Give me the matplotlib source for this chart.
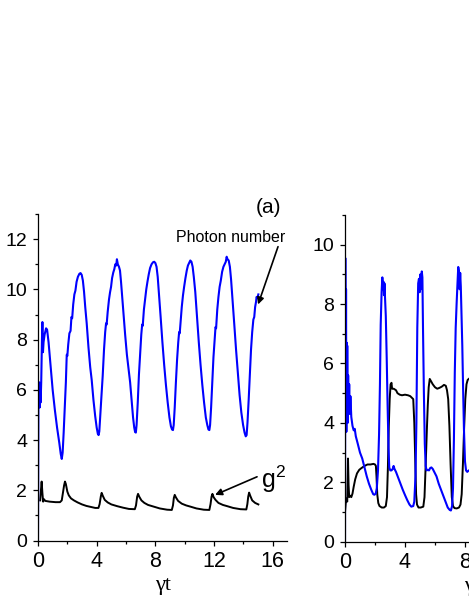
import numpy as np
import matplotlib.pyplot as plt
from matplotlib.ticker import MultipleLocator

plt.rcParams['font.family'] = ['Liberation Sans', 'DejaVu Sans']
plt.rcParams['mathtext.fontset'] = 'custom'
plt.rcParams['mathtext.rm'] = 'Liberation Sans'

# panel (a): photon number (blue) and g2 (black)
t_na = [0.00, 0.03, 0.05, 0.07, 0.09, 0.12, 0.15, 0.18, 0.22, 0.27, 0.30, 0.34, 0.38, 0.45, 0.55,
        0.62, 0.72, 0.85, 1.00, 1.15, 1.30, 1.45, 1.55, 1.62, 1.68, 1.75, 1.82, 1.90, 1.96, 2.00,
        2.06, 2.14, 2.22, 2.28, 2.33, 2.40, 2.48, 2.55, 2.63, 2.72, 2.82, 2.90, 2.98, 3.06, 3.14,
        3.22, 3.32, 3.44, 3.56, 3.66, 3.78, 3.90, 4.00, 4.08, 4.13, 4.18, 4.24, 4.32, 4.41, 4.50,
        4.58, 4.64, 4.68, 4.75, 4.84, 4.91, 4.98, 5.05, 5.13, 5.20, 5.27, 5.33, 5.38, 5.44, 5.52,
        5.59, 5.66, 5.74, 5.82, 5.94, 6.06, 6.18, 6.28, 6.38, 6.48, 6.56, 6.62, 6.67, 6.72, 6.80,
        6.88, 6.96, 7.04, 7.10, 7.14, 7.22, 7.30, 7.38, 7.46, 7.55, 7.64, 7.74, 7.84, 7.92, 8.00,
        8.08, 8.16, 8.25, 8.36, 8.48, 8.60, 8.72, 8.84, 8.96, 9.06, 9.14, 9.20, 9.25, 9.32, 9.40,
        9.48, 9.56, 9.62, 9.66, 9.72, 9.80, 9.88, 9.96, 10.05, 10.14, 10.22, 10.30, 10.38, 10.46,
        10.54, 10.62, 10.72, 10.84, 10.96, 11.08, 11.20, 11.32, 11.44, 11.54, 11.62, 11.68, 11.73,
        11.80, 11.88, 11.96, 12.04, 12.10, 12.14, 12.22, 12.30, 12.38, 12.46, 12.55, 12.64, 12.72,
        12.80, 12.86, 12.92, 13.00, 13.08, 13.16, 13.26, 13.38, 13.50, 13.62, 13.74, 13.86, 13.98,
        14.08, 14.16, 14.22, 14.28, 14.36, 14.44, 14.52, 14.60, 14.68, 14.74, 14.80, 14.86, 14.90,
        14.95, 15.02]
n_a = [0.0, 5.6, 6.2, 5.4, 6.3, 5.3, 6.2, 5.5, 6.3, 8.0, 8.7, 7.5, 7.9, 8.2, 8.45,
       8.4, 7.9, 7.0, 6.0, 5.2, 4.5, 3.9, 3.45, 3.25, 3.5, 4.3, 5.2, 6.3, 7.4, 7.35,
       7.8, 8.25, 8.35, 8.9, 8.85, 9.4, 9.8, 9.95, 10.3, 10.5, 10.62, 10.65, 10.58, 10.35, 9.9,
       9.3, 8.65, 7.7, 6.9, 6.4, 5.6, 4.95, 4.5, 4.25, 4.2, 4.35, 4.9, 5.7, 6.55, 7.6,
       8.3, 8.65, 8.6, 9.1, 9.6, 9.88, 10.1, 10.45, 10.67, 10.8, 11.0, 10.95, 11.2, 11.0, 10.9,
       10.75, 10.3, 9.7, 9.1, 8.2, 7.4, 6.8, 6.3, 5.6, 4.9, 4.5, 4.32, 4.3, 4.6, 5.5,
       6.6, 7.4, 8.2, 8.6, 8.55, 9.2, 9.6, 10.0, 10.3, 10.6, 10.85, 11.0, 11.08, 11.1, 11.05,
       10.9, 10.5, 9.8, 8.9, 7.9, 7.0, 6.2, 5.5, 4.9, 4.55, 4.42, 4.4, 4.6, 5.3, 6.3,
       7.2, 7.9, 8.3, 8.25, 8.7, 9.3, 9.75, 10.1, 10.45, 10.75, 10.95, 11.05, 11.15, 11.1,
       10.9, 10.5, 9.9, 8.9, 7.9, 7.0, 6.2, 5.5, 4.9, 4.6, 4.42, 4.4, 4.6,
       5.3, 6.3, 7.3, 8.0, 8.5, 8.45, 9.2, 9.7, 10.1, 10.35, 10.7, 10.9, 11.0,
       11.1, 11.3, 11.2, 11.15, 10.9, 10.4, 9.6, 8.6, 7.6, 6.7, 5.8, 5.1, 4.6,
       4.3, 4.15, 4.2, 4.7, 5.6, 6.6, 7.6, 8.3, 8.8, 8.9, 9.3, 9.5, 9.7,
       9.65, 9.8]

t_ga = [0.15, 0.20, 0.25, 0.30, 0.35, 0.40, 0.50, 0.80, 1.20, 1.50, 1.62, 1.70, 1.78, 1.84, 1.90,
        2.00, 2.10, 2.25, 2.45, 2.70, 3.00, 3.30, 3.60, 3.90, 4.12, 4.20, 4.28, 4.34, 4.42, 4.55,
        4.75, 5.00, 5.40, 5.80, 6.20, 6.60, 6.68, 6.76, 6.82, 6.90, 7.05, 7.25, 7.50, 7.90, 8.30,
        8.80, 9.12, 9.20, 9.26, 9.32, 9.40, 9.55, 9.80, 10.10, 10.40, 10.80, 11.30, 11.68, 11.76,
        11.83, 11.89, 11.97, 12.10, 12.30, 12.60, 12.90, 13.30, 13.80, 14.20, 14.27, 14.33, 14.39,
        14.47, 14.60, 14.80, 15.02]
g_a = [1.6, 2.0, 2.35, 1.9, 1.55, 1.65, 1.58, 1.55, 1.53, 1.53, 1.6, 1.9, 2.2, 2.35, 2.25,
       1.95, 1.8, 1.68, 1.6, 1.52, 1.44, 1.38, 1.34, 1.3, 1.3, 1.45, 1.75, 1.9, 1.78, 1.62,
       1.52, 1.44, 1.37, 1.31, 1.26, 1.25, 1.4, 1.75, 1.86, 1.75, 1.6, 1.5, 1.42, 1.35, 1.28,
       1.23, 1.22, 1.4, 1.7, 1.82, 1.72, 1.58, 1.47, 1.4, 1.35, 1.28, 1.23, 1.22, 1.45,
       1.75, 1.86, 1.73, 1.62, 1.5, 1.42, 1.37, 1.3, 1.25, 1.24, 1.45, 1.75, 1.91,
       1.78, 1.6, 1.5, 1.44]

# panel (b)
t_nb = [0.00, 0.02, 0.05, 0.07, 0.09, 0.11, 0.13, 0.15, 0.18, 0.21, 0.24, 0.28, 0.32, 0.36, 0.42,
        0.50, 0.58, 0.65, 0.72, 0.85, 1.00, 1.15, 1.30, 1.45, 1.60, 1.75, 1.88, 1.96, 2.05, 2.12,
        2.20, 2.27, 2.33, 2.38, 2.44, 2.49, 2.53, 2.57, 2.60, 2.63, 2.67, 2.72, 2.78, 2.84, 2.90,
        2.95, 3.02, 3.10, 3.18, 3.24, 3.30, 3.40, 3.55, 3.70, 3.85, 4.00, 4.15, 4.30, 4.42, 4.55,
        4.62, 4.70, 4.76, 4.82, 4.88, 4.93, 4.98, 5.02, 5.06, 5.12, 5.16, 5.20, 5.26, 5.32, 5.38,
        5.44, 5.52, 5.60, 5.68, 5.76, 5.85, 5.95, 6.10, 6.25, 6.40, 6.55, 6.70, 6.85, 6.98, 7.06,
        7.14, 7.20, 7.26, 7.32, 7.38, 7.44, 7.50, 7.55, 7.60, 7.64, 7.68, 7.72, 7.77, 7.82, 7.88,
        7.93, 8.00, 8.07, 8.15, 8.25, 8.40]
n_b = [0.0, 9.55, 4.0, 8.5, 3.7, 6.7, 4.2, 6.6, 4.0, 5.6, 4.4, 5.3, 4.3, 4.9, 4.2,
       3.9, 3.75, 3.8, 3.55, 3.3, 3.0, 2.8, 2.5, 2.2, 1.95, 1.75, 1.6, 1.58, 1.62, 1.8,
       2.4, 3.6, 5.3, 7.3, 8.4, 8.9, 8.5, 8.75, 8.3, 8.7, 8.2, 7.6, 6.2, 4.6, 3.2,
       2.5, 2.4, 2.4, 2.45, 2.55, 2.45, 2.35, 2.15, 1.95, 1.75, 1.57, 1.4, 1.25, 1.18, 1.2,
       1.35, 2.2, 4.0, 7.2, 8.7, 8.85, 8.4, 9.0, 8.5, 9.1, 8.9, 7.2, 5.0, 3.3, 2.55,
       2.4, 2.42, 2.4, 2.48, 2.5, 2.45, 2.35, 2.2, 1.95, 1.75, 1.55, 1.35, 1.15, 1.07, 1.05,
       1.2, 1.8, 3.4, 5.7, 7.2, 8.0, 8.7, 9.25, 9.1, 8.5, 9.05, 8.6, 7.6, 6.6, 5.0,
       3.8, 2.7, 2.4, 2.35, 2.4, 2.35]

t_gb = [0.00, 0.05, 0.10, 0.15, 0.20, 0.24, 0.28, 0.35, 0.42, 0.50, 0.58, 0.68, 0.80, 0.95, 1.10,
        1.30, 1.50, 1.70, 1.90, 2.00, 2.06, 2.10, 2.15, 2.22, 2.30, 2.45, 2.60, 2.72, 2.80, 2.86,
        2.92, 2.98, 3.04, 3.10, 3.14, 3.25, 3.40, 3.50, 3.65, 3.80, 4.00, 4.20, 4.35, 4.45, 4.55,
        4.62, 4.68, 4.74, 4.80, 4.90, 5.05, 5.22, 5.30, 5.38, 5.46, 5.52, 5.58, 5.65, 5.74, 5.85,
        6.00, 6.15, 6.30, 6.45, 6.60, 6.72, 6.80, 6.88, 6.96, 7.04, 7.12, 7.20, 7.30, 7.45, 7.60,
        7.70, 7.78, 7.86, 7.94, 8.02, 8.10, 8.18, 8.30]
g_b = [1.0, 1.3, 1.45, 1.35, 2.8, 1.9, 1.5, 1.55, 1.5, 1.62, 1.85, 2.1, 2.3, 2.42, 2.48,
       2.55, 2.6, 2.6, 2.62, 2.6, 2.55, 2.2, 1.6, 1.3, 1.2, 1.15, 1.15, 1.2, 1.5, 2.5,
       3.9, 4.8, 5.3, 5.35, 5.15, 5.15, 5.1, 5.0, 4.95, 4.93, 4.95, 4.93, 4.9, 4.85, 4.8,
       4.0, 2.8, 1.6, 1.25, 1.15, 1.15, 1.18, 1.5, 2.6, 3.8, 4.6, 5.2, 5.48, 5.4, 5.3,
       5.2, 5.15, 5.18, 5.22, 5.28, 5.25, 5.1, 4.8, 3.9, 2.6, 1.5, 1.2, 1.13, 1.12, 1.15,
       1.25, 1.6, 2.6, 3.8, 4.8, 5.3, 5.45, 5.5]

fig = plt.figure(figsize=(4.69, 6.07), dpi=100)
ax1 = fig.add_axes([0.081, 0.1094, 0.5318, 0.538])
ax2 = fig.add_axes([0.7356, 0.1076, 0.5437, 0.5382])


def style(ax, ymax):
    ax.set_xlim(0, 17)
    ax.set_ylim(0, ymax)
    for s in ['top', 'right']:
        ax.spines[s].set_visible(False)
    for s in ['left', 'bottom']:
        ax.spines[s].set_linewidth(0.9)
    ax.xaxis.set_major_locator(MultipleLocator(4))
    ax.xaxis.set_minor_locator(MultipleLocator(2))
    ax.yaxis.set_major_locator(MultipleLocator(2))
    ax.yaxis.set_minor_locator(MultipleLocator(1))
    ax.tick_params(which='major', direction='out', length=3.8, width=0.9)
    ax.tick_params(which='minor', direction='out', length=2.3, width=0.9)
    ax.tick_params(axis='y', labelsize=14, pad=4)
    ax.tick_params(axis='x', labelsize=15.5, pad=3.5)
    ax.set_xlabel('γt', family='Liberation Serif', fontsize=16, labelpad=3)


ax1.plot(t_ga, g_a, color='black', lw=1.4)
ax1.plot(t_na, n_a, color='#0000ff', lw=1.5)
style(ax1, 13)
ax1.text(15.7, 13.27, '(a)', fontsize=15, ha='center', va='center')

# labels and their arrows
ax1.text(13.1, 12.08, 'Photon number', fontsize=11.5, ha='center', va='center')
ax1.annotate('', xy=(15.0, 9.4), xytext=(16.36, 11.7),
             arrowprops=dict(arrowstyle='-|>', color='black', lw=1.2,
                             mutation_scale=10, shrinkA=0, shrinkB=0))
ax1.text(16.05, 2.45, r'$\mathrm{g}^{\mathrm{2}}$', fontsize=18, ha='center', va='center')
ax1.annotate('', xy=(12.07, 1.82), xytext=(14.93, 2.54),
             arrowprops=dict(arrowstyle='-|>', color='black', lw=1.2,
                             mutation_scale=10, shrinkA=0, shrinkB=0))

ax2.plot(t_gb, g_b, color='black', lw=1.4)
ax2.plot(t_nb, n_b, color='#0000ff', lw=1.5)
style(ax2, 11)

fig.savefig('out.png', dpi=100)
